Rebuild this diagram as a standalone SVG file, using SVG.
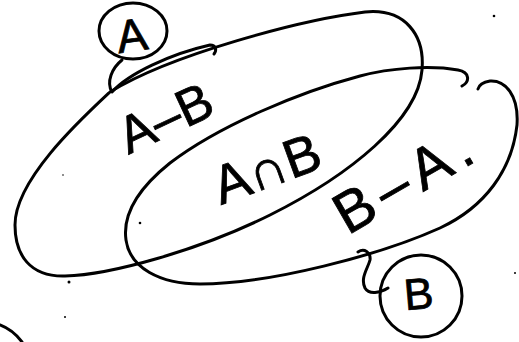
<svg xmlns="http://www.w3.org/2000/svg" width="519" height="342" viewBox="0 0 519 342">
<style>
.ln{fill:none;stroke:#000;stroke-width:3;stroke-linecap:round;stroke-linejoin:round}
.tx{font-family:"Liberation Sans","DejaVu Sans",sans-serif;fill:#000;stroke:#000;stroke-width:0.8;text-anchor:middle}
.dot{fill:#000}
</style>
<rect width="519" height="342" fill="#fff"/>
<g id="setA">
<path class="ln" d="M 15,225 C 15,180 80,120 110,92 C 170,55 300,20 365,12 C 405,8 425,35 422,70 C 418,120 350,175 270,215 C 200,250 110,275 65,276 C 30,277 15,255 15,225 Z"/>
</g>
<g id="setB">
<path class="ln" d="M 462,86 C 470,82 470,72 458,70 C 430,65 390,68 360,76 C 300,92 220,125 170,163 C 140,187 122,212 126,240 C 130,268 160,284 200,284 C 270,284 380,255 440,228 C 485,207 512,170 517,125 C 519,95 505,80 490,81 C 484,82 479,85 478,89"/>
</g>
<g id="labelA">
<ellipse class="ln" cx="133" cy="31" rx="34" ry="28"/>
<text class="tx" x="134" y="51" font-size="46" transform="rotate(-8 134 51)">A</text>
</g>
<g id="labelB">
<circle class="ln" cx="421" cy="296" r="41"/>
<text class="tx" x="420" y="309" font-size="44" transform="rotate(-5 420 309)">B</text>
</g>
<g id="connectors">
<path class="ln" d="M 122,60 C 112,68 106,82 112,92 C 128,74 170,54 210,45 C 216,45 217,50 214,54"/>
<path class="ln" d="M 358,252 C 364,248 371,252 370,260 C 368,268 360,278 365,288 C 369,295 380,293 388,288"/>
</g>
<g id="regions">
<text class="tx" x="173" y="134" font-size="52" transform="rotate(-25 173 134)">A–B</text>
<text class="tx" x="273" y="186" font-size="54" transform="rotate(-20 273 186)">A∩B</text>
<text class="tx" x="416" y="196" font-size="58" letter-spacing="8" transform="rotate(-30 416 196)">B–A.</text>
</g>
<g id="marks">
<path class="ln" d="M 0,325 C 8,328 16,334 22,342"/>
<circle class="dot" cx="140" cy="223" r="1.3"/>
<circle class="dot" cx="65" cy="317" r="1"/>
<circle class="dot" cx="69" cy="282" r="1.5"/>
<circle class="dot" cx="494" cy="16" r="1.3"/>
<circle class="dot" cx="515" cy="273" r="1"/>
<circle class="dot" cx="63" cy="175" r="0.8"/>
</g>
</svg>
